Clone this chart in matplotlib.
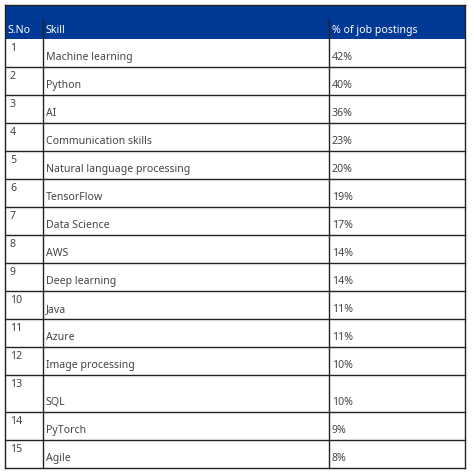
import matplotlib
matplotlib.use("Agg")
import matplotlib.pyplot as plt
from matplotlib.patches import Rectangle

headers = ["S.No", "Skill", "% of job postings"]
sno = [str(i) for i in range(1, 16)]
skills = ["Machine learning", "Python", "AI", "Communication skills",
          "Natural language processing", "TensorFlow", "Data Science", "AWS",
          "Deep learning", "Java", "Azure", "Image processing", "SQL",
          "PyTorch", "Agile"]
pct = ["42%", "40%", "36%", "23%", "20%", "19%", "17%", "14%", "14%",
       "11%", "11%", "10%", "10%", "9%", "8%"]

plt.rcParams["font.family"] = ["Noto Sans", "DejaVu Sans"]
W, H = 474, 476
fig = plt.figure(figsize=(W / 100, H / 100), dpi=100)
ax = fig.add_axes([0, 0, 1, 1])
ax.set_xlim(0, W)
ax.set_ylim(H, 0)
ax.axis("off")

xl, xr = 5, 465
cols = [5, 43, 329, 465]
top, hb = 5, 39
heights = [28] * 12 + [37, 28, 28]

ax.add_patch(Rectangle((xl, top), xr - xl, hb - top, color="#003A96", lw=0))
for i, h in enumerate(headers):
    ax.text(cols[i] + 3, hb - 3, h, color="white", fontsize=7.6,
            fontweight="bold", va="bottom", ha="left")

y = hb
lc = "#222222"
for i in range(len(skills)):
    h = heights[i]
    ax.text(cols[0] + 5, y + 4, sno[i], color="#444444", fontsize=7.6,
            va="top", ha="left")
    ax.text(cols[1] + 3, y + h - 4, skills[i], color="#444444", fontsize=7.6,
            va="bottom", ha="left")
    ax.text(cols[2] + 3, y + h - 4, pct[i], color="#444444", fontsize=7.6,
            va="bottom", ha="left")
    y += h
    ax.plot([xl, xr], [y, y], color=lc, lw=1)
bottom = y
for x in cols:
    ax.plot([x, x], [top if x in (xl, xr) else hb - 20, bottom], color=lc, lw=1)
ax.plot([xl, xr], [top, top], color=lc, lw=1)
fig.savefig("out.png", dpi=100)
